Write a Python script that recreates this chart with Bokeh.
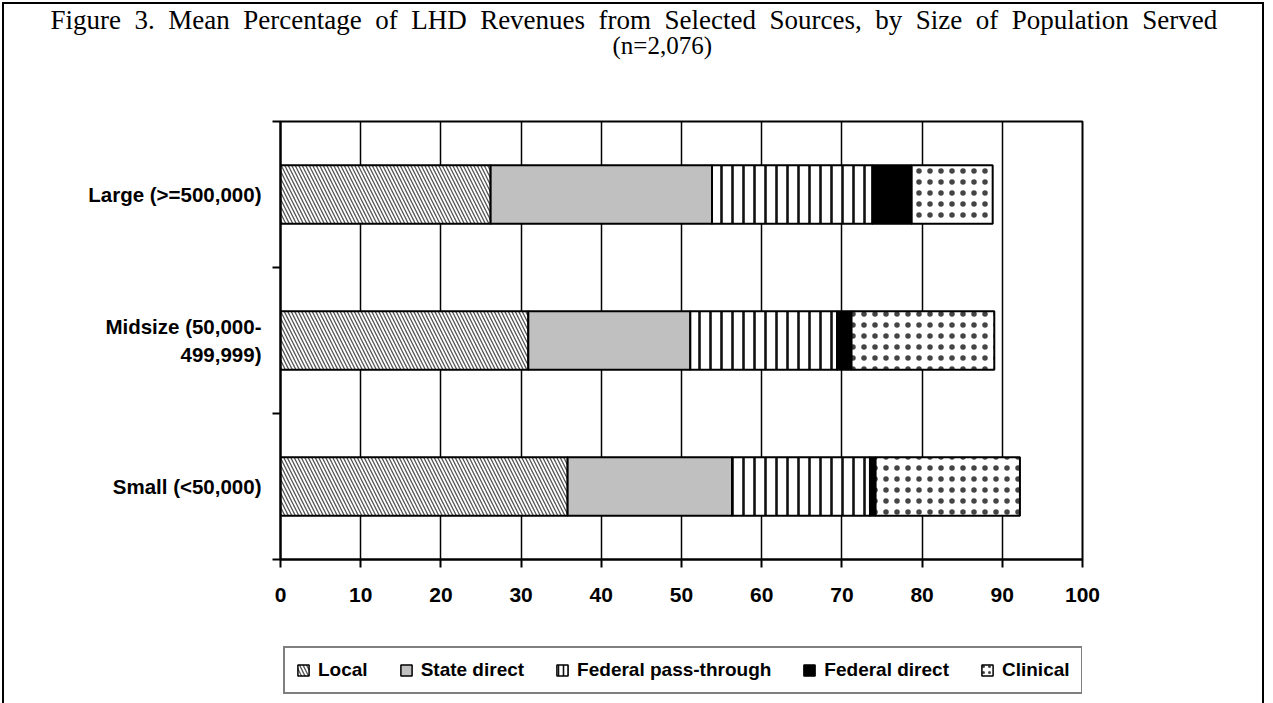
from bokeh.plotting import figure
from bokeh.layouts import column
from bokeh.models import (ColumnDataSource, FixedTicker, Legend, LegendItem,
                          Title, Range1d, InlineStyleSheet)
from bokeh.embed import file_html
from bokeh.resources import INLINE

# ---- data -------------------------------------------------------------
groups = ["Small (<50,000)", "Midsize (50,000-\n499,999)", "Large (>=500,000)"]
sources = ["Local", "State direct", "Federal pass-through", "Federal direct", "Clinical"]
local = [35.8, 30.9, 26.2]
state_direct = [20.5, 20.2, 27.6]
federal_pass_through = [17.2, 18.3, 20.0]
federal_direct = [0.7, 1.8, 4.9]
clinical = [18.0, 17.8, 10.1]
x_ticks = [0, 10, 20, 30, 40, 50, 60, 70, 80, 90, 100]

title_line1 = "Figure 3.  Mean Percentage of LHD Revenues from Selected Sources, by Size of Population Served"
title_line2 = "(n=2,076)"

# ---- layout constants (pixels) -----------------------------------------
W = 1273
H1, H2 = 615, 88                              # chart part, legend strip
FL, FT, FW, FH = 280, 121, 802, 438          # frame left/top/width/height

# series styling, one entry per source
fills = ["white", "#c0c0c0", "white", "black", "white"]
hatches = ["\\", " ", "|", " ", "."]
hatch_colors = ["#555555", "black", "#111111", "black", "#444444"]
hatch_scales = [7, 1, 11, 1, 11]
hatch_weights = [1.3, 1, 2.6, 1, 1.2]

ypos = [i + 0.5 for i in range(len(groups))]
keys = ["local", "state_direct", "federal_pass_through", "federal_direct", "clinical"]
src = ColumnDataSource(dict(y=ypos, local=local, state_direct=state_direct,
                            federal_pass_through=federal_pass_through,
                            federal_direct=federal_direct, clinical=clinical))

p = figure(width=W, height=H1, output_backend="svg", toolbar_location=None,
           x_range=Range1d(0, 100), y_range=Range1d(0, len(groups)),
           frame_width=FW, frame_height=FH,
           min_border_left=FL, min_border_top=FT,
           min_border_right=W - FL - FW, min_border_bottom=H1 - FT - FH,
           background_fill_color="white", border_fill_color="white")

p.outline_line_color = "black"
p.outline_line_width = 2

p.hbar_stack(
    keys, y="y", height=0.4, source=src,
    fill_color=fills, hatch_pattern=hatches, hatch_color=hatch_colors,
    hatch_scale=hatch_scales, hatch_weight=hatch_weights,
    line_color="black", line_width=2,
)

# grid
p.ygrid.grid_line_color = None
p.xgrid.grid_line_color = "black"
p.xgrid.grid_line_width = 1.5
p.xgrid.ticker = FixedTicker(ticks=x_ticks)

# x axis
xa = p.xaxis[0]
xa.ticker = FixedTicker(ticks=x_ticks)
xa.axis_line_width = 2
xa.major_tick_line_width = 2
xa.major_tick_out = 8
xa.major_tick_in = 0
xa.minor_tick_line_color = None
xa.major_label_text_font = "Liberation Sans"
xa.major_label_text_font_style = "bold"
xa.major_label_text_font_size = "21px"
xa.major_label_text_color = "black"
xa.major_label_standoff = 20

# y axis: labels at band centres, ticks at band boundaries
ya = p.yaxis[0]
ya.ticker = FixedTicker(ticks=ypos, minor_ticks=list(range(len(groups) + 1)))
ya.major_label_overrides = {y: g for y, g in zip(ypos, groups)}
ya.axis_line_width = 2
ya.major_tick_line_color = None
ya.minor_tick_line_width = 2
ya.minor_tick_out = 8
ya.minor_tick_in = 0
ya.major_label_text_font = "Liberation Sans"
ya.major_label_text_font_style = "bold"
ya.major_label_text_font_size = "20.5px"
ya.major_label_text_color = "black"
ya.major_label_text_align = "right"
ya.major_label_standoff = 11


def spacer(gap):
    """An empty title panel used only to open vertical space."""
    return Title(text=" ", text_font_size="1px", standoff=gap)


# two-line title above the chart (first line set with wide word spacing)
wide_line1 = "\u00a0\u00a0".join(title_line1.replace("  ", " ").split(" "))
p.add_layout(spacer(63), "above")
t2 = Title(text=title_line2, align="left", offset=332, standoff=-6,
           text_font="Liberation Serif", text_font_size="25px",
           text_font_style="normal", text_color="black")
t1 = Title(text=wide_line1, align="left", offset=-230, standoff=-4,
           text_font="Liberation Serif", text_font_size="27px",
           text_font_style="normal", text_color="black")
p.add_layout(t2, "above")
p.add_layout(t1, "above")

# ---- legend strip ------------------------------------------------------
# The same stacked bars are drawn in this strip, squeezed so that they sit
# entirely underneath the opaque legend box; the legend swatches take each
# series' styling from these renderers.
leg = figure(width=W, height=H2, output_backend="svg", toolbar_location=None,
             x_range=Range1d(-3, 100), y_range=Range1d(-0.56, 4.85),
             x_axis_location=None, y_axis_location=None,
             min_border=0, background_fill_color="white",
             border_fill_color="white")
leg.grid.visible = False
leg.outline_line_color = None

swatches = leg.hbar_stack(
    keys, y="y", height=0.4, source=src,
    fill_color=fills, hatch_pattern=hatches, hatch_color=hatch_colors,
    hatch_scale=[7, 1, 5, 1, 6], hatch_weight=[1.3, 1, 1.6, 1, 1.2],
    line_color="black", line_width=1.5,
)

legend = Legend(
    items=[LegendItem(label=s, renderers=[r]) for s, r in zip(sources, swatches)],
    orientation="horizontal", location=(3, 9),
    glyph_width=14, glyph_height=14, label_standoff=8, spacing=31,
    padding=11, margin=0,
    label_text_font="Liberation Sans", label_text_font_style="bold",
    label_text_font_size="19px", label_text_color="black",
    border_line_color="black", border_line_width=2,
    background_fill_color="white", background_fill_alpha=1,
)
leg.add_layout(legend)

# page frame around the whole figure
p.stylesheets = [InlineStyleSheet(css="""
:host { position: relative; }
:host::after {
  content: ""; position: absolute; left: 2px; top: 2px;
  width: 1262px; height: 700px; border-style: solid; border-color: black;
  border-width: 2px 2px 0 2px; pointer-events: none; box-sizing: border-box;
}
""")]
leg.stylesheets = [InlineStyleSheet(css="""
:host { position: relative; }
:host::after {
  content: ""; position: absolute; left: 2px; top: 0px;
  width: 1262px; height: 200px; border-style: solid; border-color: black;
  border-width: 0 2px 0 2px; pointer-events: none; box-sizing: border-box;
}
""")]

page = column(p, leg, spacing=0)
open("out.html", "w").write(file_html(page, INLINE))
